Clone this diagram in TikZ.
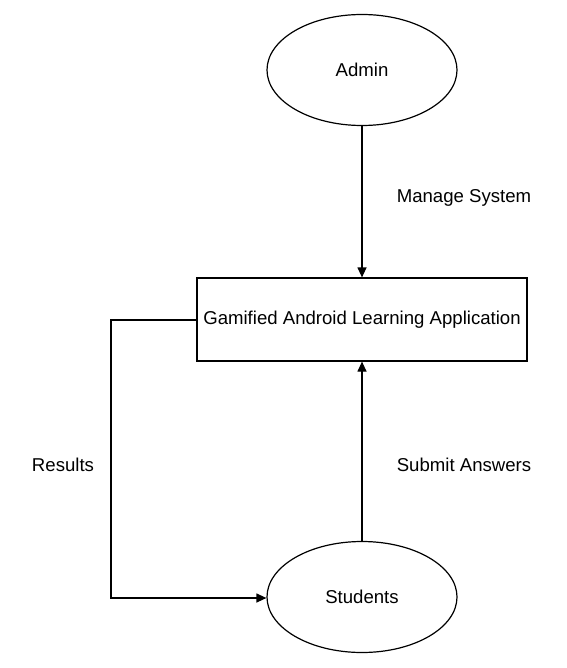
\documentclass[tikz,border=0pt]{standalone}
\usepackage{fontspec}
\setmainfont{Liberation Sans}
\usetikzlibrary{shapes.geometric,arrows.meta}
\begin{document}
\begin{tikzpicture}[x=1pt,y=-1pt,
  every node/.style={font=\fontsize{18.6}{22}\selectfont, inner sep=0pt},
  ent/.style={draw, line width=1.2pt, ellipse, minimum width=190, minimum height=111},
  proc/.style={draw, line width=1.2pt, rectangle, minimum width=330, minimum height=83},
  flow/.style={line width=1.2pt, -{Triangle[length=10pt,width=9pt]}}]
\useasboundingbox (0,0) rectangle (566,668);
\node[ent] (admin) at (362,70) {Admin};
\node[proc] (app) at (362,319.5) {Gamified Android Learning Application};
\node[ent] (stud) at (362,597) {Students};
\draw[flow] (admin) -- (app);
\draw[flow] (stud) -- (app);
\coordinate (c1) at (111,320);
\coordinate (c2) at (111,598);
\draw[flow] (app.west |- c1) -- (c1) -- (c2) -- (stud.west |- c2);
\node (l1) at (464,198) {Manage System};
\node (l2) at (464,465) {Submit Answers};
\node (l3) at (63,465) {Results};
\end{tikzpicture}
\end{document}
